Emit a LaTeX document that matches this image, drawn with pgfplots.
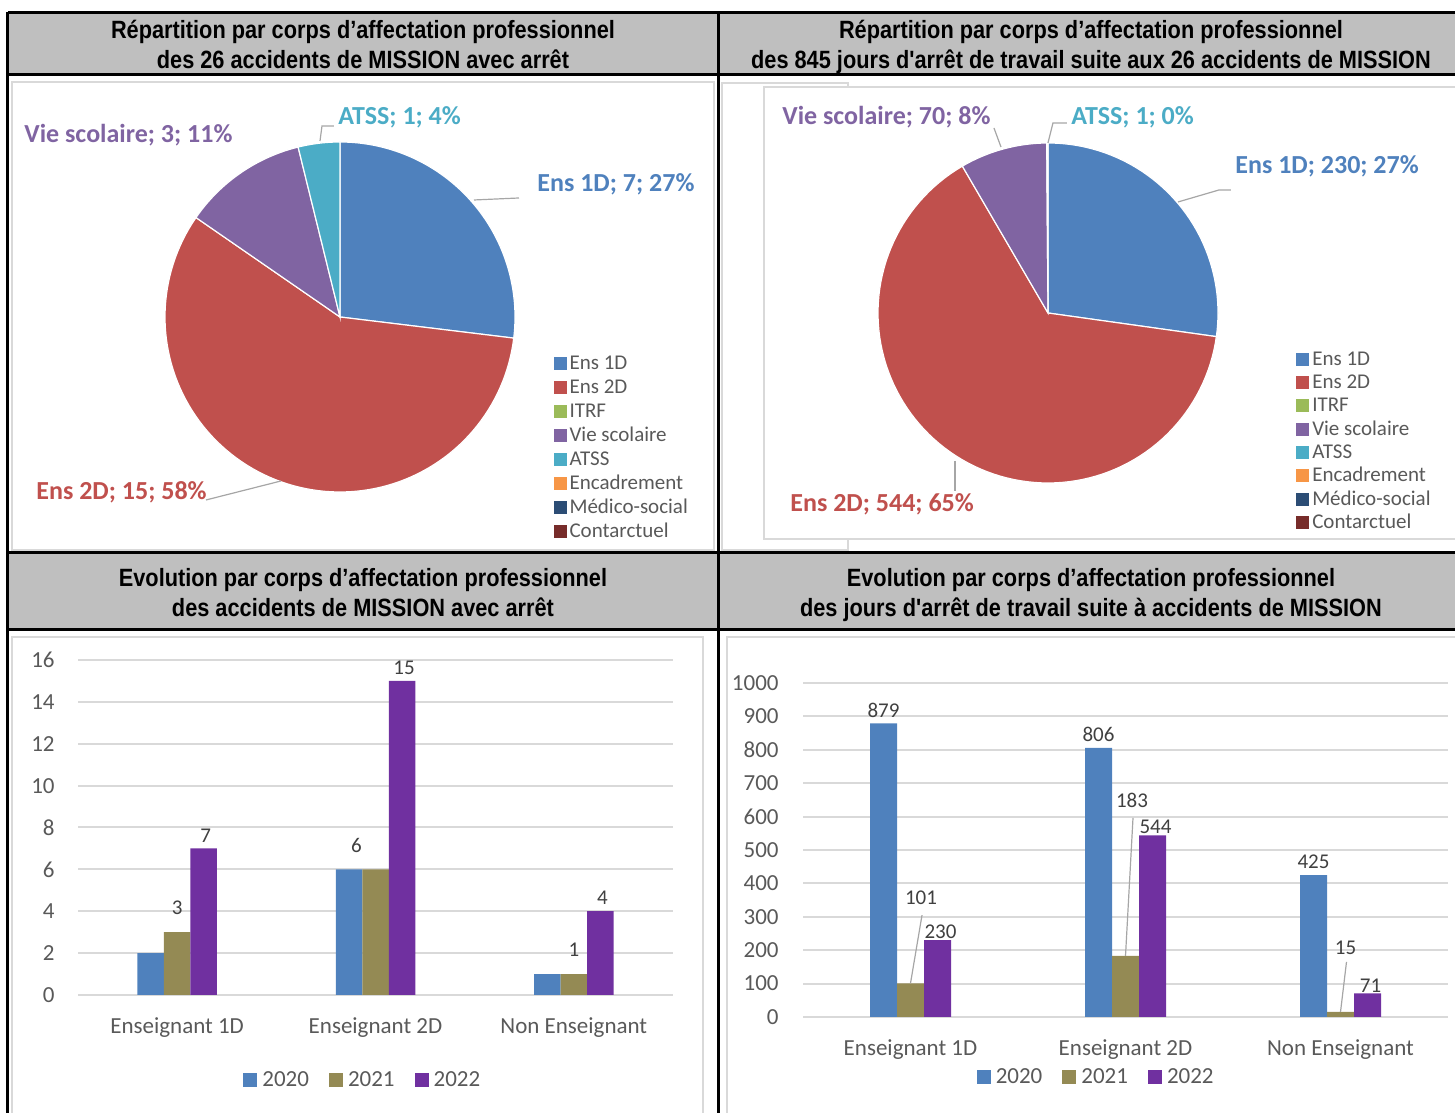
\documentclass[border=0pt]{standalone}
\usepackage{fontspec}
\setmainfont{Carlito}
\newfontfamily\hdrfont[FakeStretch=0.87,Ligatures=TeXOff]{Liberation Sans}
\usepackage{pgfplots}
\usepackage{pgfplotstable}
\pgfplotsset{compat=1.18}

\definecolor{cEnsA}{HTML}{4F81BD}
\definecolor{cEnsB}{HTML}{C0504D}
\definecolor{cItrf}{HTML}{9BBB59}
\definecolor{cVie}{HTML}{8064A2}
\definecolor{cAtss}{HTML}{4BACC6}
\definecolor{cEnc}{HTML}{F79646}
\definecolor{cMed}{HTML}{2C4D75}
\definecolor{cCon}{HTML}{772C2A}
\definecolor{y20}{HTML}{4F81BD}
\definecolor{y21}{HTML}{948A54}
\definecolor{y22}{HTML}{7030A0}
\definecolor{hdrgray}{HTML}{BFBFBF}
\definecolor{gridc}{HTML}{D9D9D9}
\definecolor{tickc}{HTML}{595959}
\definecolor{lblc}{HTML}{404040}
\definecolor{framec}{HTML}{D9D9D9}
\definecolor{leadc}{HTML}{A6A6A6}

\newcommand\hdrsize{\fontsize{12.5bp}{15bp}\selectfont}
\newcommand\pielab{\fontsize{13bp}{15bp}\selectfont\bfseries}
\newcommand\legfont{\fontsize{10.5bp}{12bp}\selectfont}
\newcommand\tickfont{\fontsize{11.5bp}{13bp}\selectfont}
\newcommand\valfont{\fontsize{10.5bp}{12bp}\selectfont}

% accidents avec arret
\pgfplotstableread{
x  a20 a21 a22 dx
0  2   3   7   0
1  6   6   15  -9.5
2  1   1   4   0
}\accdata

% jours d'arret
\pgfplotstableread{
x  j20 j21 j22 dx    dy
0  879 101 230 5.25  43
1  806 183 544 3.25  77.5
2  425 15  71  2.5   32
}\jourdata

\pgfplotsset{
  /pgf/number format/assume math mode=true,
  /pgf/number format/1000 sep={},
  pieax/.style={
    scale only axis, hide axis, clip=false,
    xmin=-1, xmax=1, ymin=-1, ymax=1,
    legend image code/.code={\fill[##1] (0bp,-3.25bp) rectangle (6.5bp,3.25bp);},
    legend cell align=left,
    legend style={draw=none, fill=none, inner sep=0pt, anchor=north west,
      font=\legfont, text=tickc, row sep=0pt,
      nodes={inner sep=0pt, text height=9bp, text depth=3bp},
      /tikz/every odd column/.append style={column sep=1.5bp}},
  },
  slice/.style={forget plot, draw=white, line width=0.6bp, samples=100},
  barax/.style={
    scale only axis, ybar=0pt, clip=false,
    xmin=-0.5, xmax=2.5, ymin=0,
    xtick={0,1,2},
    xticklabels={Enseignant 1D,Enseignant 2D,Non Enseignant},
    axis line style={draw=none}, major tick length=0pt,
    ymajorgrids, grid style={gridc, line width=1bp},
    tick label style={font=\tickfont, text=tickc, inner sep=0pt},
    xticklabel style={anchor=base, yshift=-19bp},
    legend columns=3,
    legend image code/.code={\fill[##1] (0bp,-3.5bp) rectangle (7bp,3.5bp);},
    legend style={draw=none, fill=none, anchor=center, inner sep=0pt,
      font=\tickfont, text=tickc,
      nodes={inner sep=0pt, text height=8bp, text depth=2bp},
      /tikz/every odd column/.append style={column sep=2.5bp},
      /tikz/every even column/.append style={column sep=10bp}},
  },
  vals/.style={nodes near coords,
    every node near coord/.append style={anchor=center, font=\valfont, text=lblc, inner sep=0pt}},
}

\begin{document}
\begin{tikzpicture}
\useasboundingbox (0,0) rectangle (727.5bp,556.5bp);

\pgfmathsetmacro\pAa{90-360/26*7}
\pgfmathsetmacro\pAb{\pAa-360/26*15}
\pgfmathsetmacro\pAc{\pAb-360/26*3}
\pgfmathsetmacro\pAd{\pAc-360/26*1}
\pgfmathsetmacro\pBa{90-360/845*230}
\pgfmathsetmacro\pBb{\pBa-360/845*544}
\pgfmathsetmacro\pBc{\pBb-360/845*70}
\pgfmathsetmacro\pBd{\pBc-360/845*1}

% frame, headers (pixel coordinates, origin top left)
\begin{scope}[x=0.5bp, y=-0.5bp, yshift=556.5bp]
  \fill[hdrgray] (8,13) rectangle (1460,75);
  \fill[hdrgray] (8,553) rectangle (1460,630);
  \draw[framec, line width=1bp] (12,82) rectangle (714,550);
  \draw[framec, line width=1bp] (722,83) rectangle (848,550);
  \draw[framec, line width=1bp, fill=white] (764,87) rectangle (1462,539);
  \draw[framec, line width=1bp] (12,637) rectangle (703,1125);
  \draw[framec, line width=1bp] (727,637) rectangle (1462,1125);
  \begin{scope}[line width=1.5bp]
    \draw (8,13) -- (1460,13);
    \draw (8,75) -- (1460,75);
    \draw (8,553) -- (1460,553);
    \draw (8,630) -- (1460,630);
    \draw (8,12) -- (8,1120);
    \draw (719,12) -- (719,1120);
  \end{scope}
  \begin{scope}[every node/.style={font=\hdrfont\bfseries\hdrsize, align=center, inner sep=0pt}]
    \node at (363,44) {Répartition par corps d’affectation professionnel\\des 26 accidents de MISSION avec arrêt};
    \node at (1091,46.5) {Répartition par corps d’affectation professionnel\\des 845 jours d'arrêt de travail suite aux 26 accidents de MISSION};
    \node at (363,593) {Evolution par corps d’affectation professionnel\\des accidents de MISSION avec arrêt};
    \node at (1091,595) {Evolution par corps d’affectation professionnel\\des jours d'arrêt de travail suite à accidents de MISSION};
  \end{scope}
\end{scope}

% pie 1 : 26 accidents
\begin{axis}[pieax, at={(170bp,398bp)}, anchor=center, width=175bp, height=175bp,
  legend style={at={(1.109,0.403)}}]
  \addplot[slice, fill=cEnsA, domain=\pAa:90] ({cos(x)},{sin(x)}) -- (axis cs:0,0) -- cycle;
  \addplot[slice, fill=cEnsB, domain=\pAb:\pAa] ({cos(x)},{sin(x)}) -- (axis cs:0,0) -- cycle;
  \addplot[slice, fill=cVie, domain=\pAc:\pAb] ({cos(x)},{sin(x)}) -- (axis cs:0,0) -- cycle;
  \addplot[slice, fill=cAtss, domain=\pAd:\pAc] ({cos(x)},{sin(x)}) -- (axis cs:0,0) -- cycle;
  \addlegendimage{fill=cEnsA, draw=none}\addlegendentry{Ens 1D}
  \addlegendimage{fill=cEnsB, draw=none}\addlegendentry{Ens 2D}
  \addlegendimage{fill=cItrf, draw=none}\addlegendentry{ITRF}
  \addlegendimage{fill=cVie, draw=none}\addlegendentry{Vie scolaire}
  \addlegendimage{fill=cAtss, draw=none}\addlegendentry{ATSS}
  \addlegendimage{fill=cEnc, draw=none}\addlegendentry{Encadrement}
  \addlegendimage{fill=cMed, draw=none}\addlegendentry{Médico-social}
  \addlegendimage{fill=cCon, draw=none}\addlegendentry{Contarctuel}
\end{axis}

% pie 2 : 845 jours
\begin{axis}[pieax, at={(524bp,400bp)}, anchor=center, width=170bp, height=170bp,
  legend style={at={(1.229,0.399)}, nodes={text height=8.8bp, text depth=2.85bp}}]
  \addplot[slice, fill=cEnsA, domain=\pBa:90] ({cos(x)},{sin(x)}) -- (axis cs:0,0) -- cycle;
  \addplot[slice, fill=cEnsB, domain=\pBb:\pBa] ({cos(x)},{sin(x)}) -- (axis cs:0,0) -- cycle;
  \addplot[slice, fill=cVie, domain=\pBc:\pBb] ({cos(x)},{sin(x)}) -- (axis cs:0,0) -- cycle;
  \addplot[slice, fill=cAtss, domain=\pBd:\pBc, samples=3] ({cos(x)},{sin(x)}) -- (axis cs:0,0) -- cycle;
  \addlegendimage{fill=cEnsA, draw=none}\addlegendentry{Ens 1D}
  \addlegendimage{fill=cEnsB, draw=none}\addlegendentry{Ens 2D}
  \addlegendimage{fill=cItrf, draw=none}\addlegendentry{ITRF}
  \addlegendimage{fill=cVie, draw=none}\addlegendentry{Vie scolaire}
  \addlegendimage{fill=cAtss, draw=none}\addlegendentry{ATSS}
  \addlegendimage{fill=cEnc, draw=none}\addlegendentry{Encadrement}
  \addlegendimage{fill=cMed, draw=none}\addlegendentry{Médico-social}
  \addlegendimage{fill=cCon, draw=none}\addlegendentry{Contarctuel}
\end{axis}

% bar chart 1 : accidents
\begin{axis}[barax, at={(39bp,59bp)}, anchor=south west, width=297.5bp, height=167.5bp,
  ymax=16, ytick={0,2,...,16}, bar width=13.25bp,
  yticklabel style={anchor=east, xshift=-11.5bp},
  legend style={at={(0.477,-0.254)}}]
  \addplot[fill=y20, draw=none] table[x=x, y=a20] {\accdata};
  \addplot[fill=y21, draw=none, vals,
    visualization depends on={\thisrow{dx}\as\dxx},
    every node near coord/.append style={yshift=12bp, xshift=\dxx*1bp}]
    table[x=x, y=a21] {\accdata};
  \addplot[fill=y22, draw=none, vals,
    every node near coord/.append style={yshift=6.5bp, xshift=1bp}]
    table[x=x, y=a22] {\accdata};
  \legend{2020,2021,2022}
\end{axis}

% bar chart 2 : jours
\begin{axis}[barax, at={(401.5bp,48bp)}, anchor=south west, width=322.5bp, height=167bp,
  ymax=1000, ytick={0,100,...,1000}, bar width=13.5bp,
  yticklabel style={anchor=east, xshift=-12bp},
  xticklabel style={yshift=-0.5bp},
  legend style={at={(0.453,-0.180)}}]
  \addplot[fill=y20, draw=none, vals,
    every node near coord/.append style={yshift=6.5bp}]
    table[x=x, y=j20] {\jourdata};
  \addplot[fill=y21, draw=none, vals,
    visualization depends on={\thisrow{dx}\as\dxx},
    visualization depends on={\thisrow{dy}\as\dyy},
    every node near coord/.append style={xshift=\dxx*1bp, yshift=\dyy*1bp}]
    table[x=x, y=j21] {\jourdata};
  \addplot[fill=y22, draw=none, vals,
    every node near coord/.append style={yshift=4bp, xshift=1.5bp}]
    table[x=x, y=j22] {\jourdata};
  \draw[leadc, line width=0.6bp] (axis cs:0,101) -- ([xshift=5.75bp]axis cs:0,305);
  \draw[leadc, line width=0.6bp] (axis cs:1,183) -- ([xshift=3.75bp]axis cs:1,596);
  \draw[leadc, line width=0.6bp] (axis cs:2,15) -- ([xshift=3bp]axis cs:2,165);
  \legend{2020,2021,2022}
\end{axis}

% pie labels and leader lines
\begin{scope}[x=0.5bp, y=-0.5bp, yshift=556.5bp]
  \begin{scope}[leadc, line width=0.6bp]
    \draw (474,200) -- (519,198);
    \draw (206,500) -- (281,481);
    \draw (320,141) -- (322,126) -- (334,126);
    \draw (1048,143) -- (1053,123) -- (1067,123);
    \draw (1001,147) -- (994,128);
    \draw (1178,202) -- (1219,190) -- (1231,190);
    \draw (955,461) -- (955,491);
  \end{scope}
  \begin{scope}[every node/.style={font=\pielab, anchor=west, inner sep=0pt}]
    \node[text=cEnsA] at (537,184) {Ens 1D; 7; 27\%};
    \node[text=cEnsB] at (36,492) {Ens 2D; 15; 58\%};
    \node[text=cVie] at (24,135) {Vie scolaire; 3; 11\%};
    \node[text=cAtss] at (338,117) {ATSS; 1; 4\%};
    \node[text=cVie] at (782,117) {Vie scolaire; 70; 8\%};
    \node[text=cAtss] at (1071,117) {ATSS; 1; 0\%};
    \node[text=cEnsA] at (1235,166) {Ens 1D; 230; 27\%};
    \node[text=cEnsB] at (790,504) {Ens 2D; 544; 65\%};
  \end{scope}
\end{scope}
\end{tikzpicture}
\end{document}
